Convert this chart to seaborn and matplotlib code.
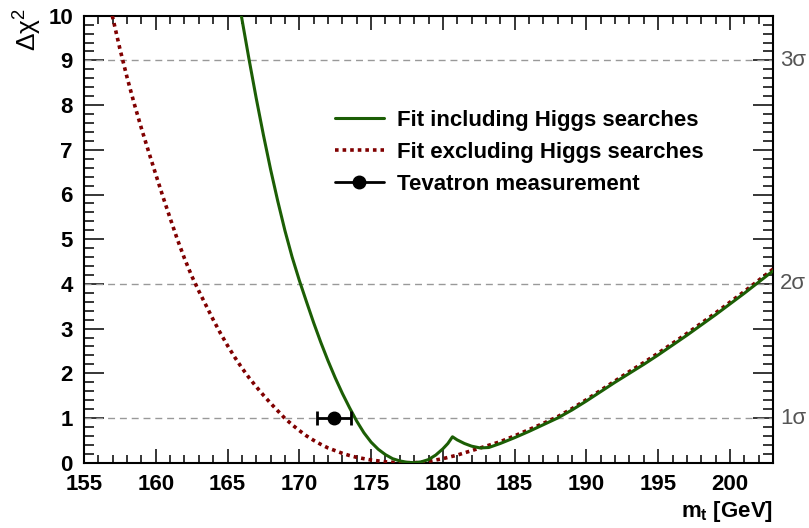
import pandas as pd
import seaborn as sns
import matplotlib.pyplot as plt
from matplotlib.lines import Line2D
from matplotlib.ticker import MultipleLocator
import matplotlib.transforms as mtransforms

# =========================
# Data
# =========================
# Fit including Higgs searches (solid green)
mt_incl = [165.96, 166.5, 167.0, 167.5, 168.0, 168.5, 169.0, 169.5, 170.0, 170.5,
           171.0, 171.5, 172.0, 172.5, 173.0, 173.5, 174.0, 174.5, 175.0, 175.5,
           176.0, 176.5, 177.0, 177.5, 178.0, 178.5, 179.0, 179.5, 180.0, 180.35,
           180.67, 181.0, 181.5, 182.0, 182.6, 183.2, 184.0, 185.0, 186.0, 187.0,
           188.0, 189.0, 190.0, 191.0, 192.0, 193.0, 194.0, 195.0, 196.0, 197.0,
           198.0, 199.0, 200.0, 201.0, 202.0, 203.0]
chi2_incl = [10.0, 9.02, 8.15, 7.33, 6.56, 5.85, 5.19, 4.6, 4.08, 3.6,
             3.13, 2.69, 2.28, 1.9, 1.55, 1.23, 0.93, 0.67, 0.46, 0.3,
             0.18, 0.09, 0.04, 0.01, 0.0, 0.02, 0.07, 0.17, 0.31, 0.43,
             0.58, 0.51, 0.43, 0.37, 0.33, 0.34, 0.43, 0.56, 0.7, 0.85,
             1.0, 1.18, 1.38, 1.59, 1.8, 2.0, 2.2, 2.41, 2.63, 2.85,
             3.08, 3.31, 3.55, 3.79, 4.04, 4.29]

# Fit excluding Higgs searches (dotted dark red)
mt_excl = [156.97, 157.5, 158.0, 158.5, 159.0, 159.5, 160.0, 160.5, 161.0, 161.5,
           162.0, 162.5, 163.0, 163.5, 164.0, 164.5, 165.0, 165.5, 166.0, 166.5,
           167.0, 167.5, 168.0, 168.5, 169.0, 169.5, 170.0, 170.5, 171.0, 171.5,
           172.0, 172.5, 173.0, 173.5, 174.0, 174.5, 175.0, 175.5, 176.0, 176.5,
           177.0, 177.5, 178.0, 178.5, 179.0, 179.5, 180.0, 180.5, 181.0, 181.5,
           182.0, 182.5, 183.0, 184.0, 185.0, 186.0, 187.0, 188.0, 189.0, 190.0,
           191.0, 192.0, 193.0, 194.0, 195.0, 196.0, 197.0, 198.0, 199.0, 200.0,
           201.0, 202.0, 203.0]
chi2_excl = [10.0, 9.26, 8.62, 8.03, 7.48, 6.96, 6.45, 5.95, 5.47, 5.0,
             4.57, 4.18, 3.84, 3.52, 3.2, 2.9, 2.62, 2.36, 2.12, 1.9,
             1.7, 1.51, 1.33, 1.16, 0.99, 0.85, 0.72, 0.6, 0.5, 0.41,
             0.33, 0.27, 0.21, 0.16, 0.12, 0.09, 0.06, 0.04, 0.02, 0.01,
             0.0, 0.0, 0.0, 0.01, 0.03, 0.06, 0.09, 0.13, 0.17, 0.22,
             0.27, 0.32, 0.37, 0.47, 0.6, 0.74, 0.88, 1.03, 1.21, 1.41,
             1.62, 1.83, 2.04, 2.24, 2.45, 2.67, 2.89, 3.12, 3.35, 3.59,
             3.83, 4.08, 4.33]

# Tevatron measurement
tev_mt = [172.4]
tev_err = [1.2]
tev_y = [1.0]

sigma_levels = [1, 4, 9]
sigma_labels = ["1σ", "2σ", "3σ"]

GREEN = "#1c5e05"
DARKRED = "#800000"


def make_plot():
    sns.set_theme(style="ticks")
    plt.rcParams["font.family"] = ["Liberation Sans", "DejaVu Sans"]
    plt.rcParams["text.color"] = "black"
    plt.rcParams["mathtext.fontset"] = "custom"
    plt.rcParams["mathtext.rm"] = "Liberation Sans"
    plt.rcParams["mathtext.it"] = "Liberation Sans:italic"
    plt.rcParams["mathtext.bf"] = "Liberation Sans:bold"

    fig = plt.figure(figsize=(8.09, 5.28), dpi=100)
    ax = fig.add_axes([84 / 809, 1 - 462.7 / 528, (773 - 84) / 809, (462.7 - 15.7) / 528])

    # sigma reference lines
    for lvl in sigma_levels:
        ax.axhline(lvl, color="#999999", lw=1.0, ls=(0, (5, 3.5)), zorder=1)

    incl = pd.DataFrame({"mt": mt_incl, "chi2": chi2_incl})
    excl = pd.DataFrame({"mt": mt_excl, "chi2": chi2_excl})

    sns.lineplot(data=excl, x="mt", y="chi2", ax=ax, color=DARKRED, lw=2.6,
                 linestyle=(0, (1, 1.1)), zorder=3)
    sns.lineplot(data=incl, x="mt", y="chi2", ax=ax, color=GREEN, lw=2.2, zorder=4)

    ax.errorbar(tev_mt, tev_y, xerr=tev_err, fmt="o", color="black", ms=9,
                elinewidth=2.0, capsize=5, capthick=2.0, zorder=5)

    ax.set_xlim(155, 203)
    ax.set_ylim(0, 10)
    ax.set_xlabel("")
    ax.set_ylabel("")

    ax.xaxis.set_major_locator(MultipleLocator(5))
    ax.xaxis.set_minor_locator(MultipleLocator(1))
    ax.yaxis.set_major_locator(MultipleLocator(1))
    ax.yaxis.set_minor_locator(MultipleLocator(0.2))

    ax.tick_params(which="both", direction="in", top=True, right=True, width=1.1,
                   colors="black", labelcolor="black", labelsize=16)
    ax.tick_params(axis="x", which="major", length=10, pad=8)
    ax.tick_params(axis="x", which="minor", length=5.5)
    ax.tick_params(axis="y", which="major", length=14.5, pad=8)
    ax.tick_params(axis="y", which="minor", length=7.3)
    for lab in ax.get_xticklabels() + ax.get_yticklabels():
        lab.set_fontweight("bold")
    for sp in ax.spines.values():
        sp.set_linewidth(1.5)
        sp.set_color("black")

    # sigma labels on the right
    trans = mtransforms.blended_transform_factory(ax.transAxes, ax.transData)
    for lvl, lab in zip(sigma_levels, sigma_labels):
        ax.text(1.01, lvl, lab, transform=trans, ha="left", va="center",
                color="#555555", fontsize=16)

    # legend
    handles = [
        Line2D([], [], color=GREEN, lw=2.2),
        Line2D([], [], color=DARKRED, lw=2.6, linestyle=(0, (1, 1.1))),
        Line2D([], [], color="black", lw=2.0, marker="o", ms=9),
    ]
    labels = ["Fit including Higgs searches", "Fit excluding Higgs searches",
              "Tevatron measurement"]
    ax.legend(handles, labels, loc="upper left", bbox_to_anchor=(0.364, 0.79),
              frameon=False, handlelength=2.2, handletextpad=0.6,
              labelspacing=0.5, borderpad=0, borderaxespad=0,
              labelcolor="black", prop={"weight": "bold", "size": 16})

    # axis titles
    fig.text(28 / 809, 1 - 8 / 528, r"$\mathrm{\Delta\chi}^{2}$", rotation=90,
             ha="center", va="top", fontsize=19, color="black")
    fig.text(773 / 809, 1 - 511 / 528, r"$\mathbf{m_t}$ [GeV]", ha="right",
             va="center", fontsize=16, fontweight="bold", color="black")

    fig.savefig("out.png", dpi=100)
    plt.close(fig)


if __name__ == "__main__":
    make_plot()
